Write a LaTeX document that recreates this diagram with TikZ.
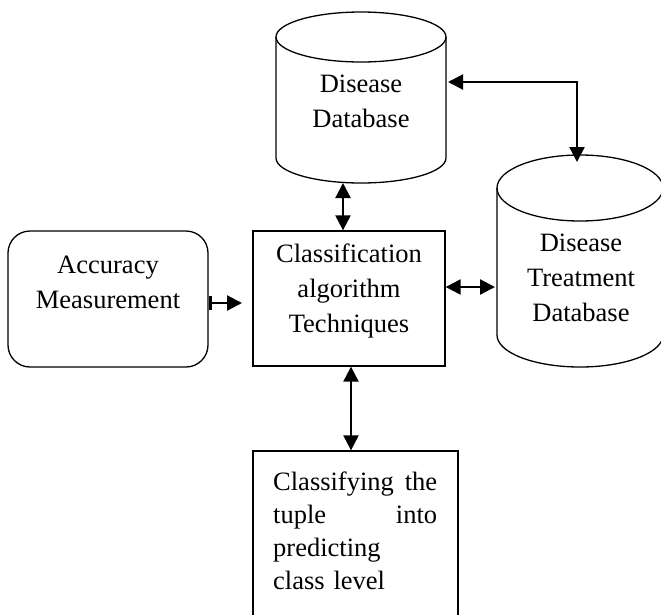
\documentclass[tikz,border=0pt]{standalone}
\usepackage{fontspec}
\setmainfont{Liberation Serif}
\usetikzlibrary{arrows.meta}
\begin{document}
\begin{tikzpicture}[x=1pt,y=-1pt,
  shapeline/.style={line width=1.3pt},
  boxnode/.style={draw, line width=1.3pt, inner sep=0pt},
  txt/.style={font=\fontsize{26.5}{35}\selectfont, align=center, inner sep=0pt},
  tipa/.tip={Triangle[length=15pt,width=15pt]},
  link/.style={line width=2.2pt, tipa-tipa},
  onelink/.style={line width=2.2pt, {Bar[width=14pt,line width=3pt]}-tipa},
]
\useasboundingbox (0,0) rectangle (661,614);
\clip (0,0) rectangle (661,614);

% Disease Database cylinder
\node[minimum width=170pt, minimum height=171pt, inner sep=0pt] (dd) at (361,97.5) {};
\draw[shapeline] (361,37) ellipse [x radius=85pt, y radius=25pt];
\draw[shapeline] (276,37) -- (276,158) arc[start angle=180, end angle=360, x radius=85pt, y radius=25pt] -- (446,37);
\node[txt] (ddtext) at (361,101) {Disease\\Database};

% Disease Treatment Database cylinder
\node[minimum width=166pt, minimum height=212pt, inner sep=0pt] (dt) at (580,261) {};
\draw[shapeline] (580,188) ellipse [x radius=83pt, y radius=33pt];
\draw[shapeline] (497,188) -- (497,335) arc[start angle=180, end angle=360, x radius=83pt, y radius=32pt] -- (663,188);
\node[txt] (dttext) at (581,278) {Disease\\Treatment\\Database};

% Accuracy Measurement
\node[boxnode, rounded corners=22pt, minimum width=200pt, minimum height=136pt] (acc) at (108,299) {};
\node[txt] (acctext) at (108,282) {Accuracy\\Measurement};

% Classification box
\node[boxnode, minimum width=192pt, minimum height=135pt] (cls) at (349,298.5) {};
\node[txt] (clstext) at (349,291) {Classification\\algorithm\\Techniques};

% Bottom box
\node[boxnode, minimum width=205pt, minimum height=199pt] (bot) at (355.5,550.5) {};
\node[txt, align=left, text width=164pt, anchor=north west, font=\fontsize{26.5}{33}\selectfont] (bottext) at (273,472) {Classifying\hfill the\\tuple\hfill into\\predicting\\class level};

% connector end points
\coordinate (ddb) at (343,183);
\coordinate (ddr) at (448,82);
\coordinate (dtt) at (577,162);
\coordinate (dtl) at (495,287);
\coordinate (clsl) at (242,303);

\draw[link] (ddb) -- (ddb |- cls.north);
\draw[link] (dtt) |- (ddr);
\draw[link] (cls.east |- dtl) -- (dtl);
\draw[onelink] (acc.east |- clsl) -- (clsl);
\draw[link] (cls.south -| 351,0) -- (bot.north -| 351,0);
\end{tikzpicture}
\end{document}
